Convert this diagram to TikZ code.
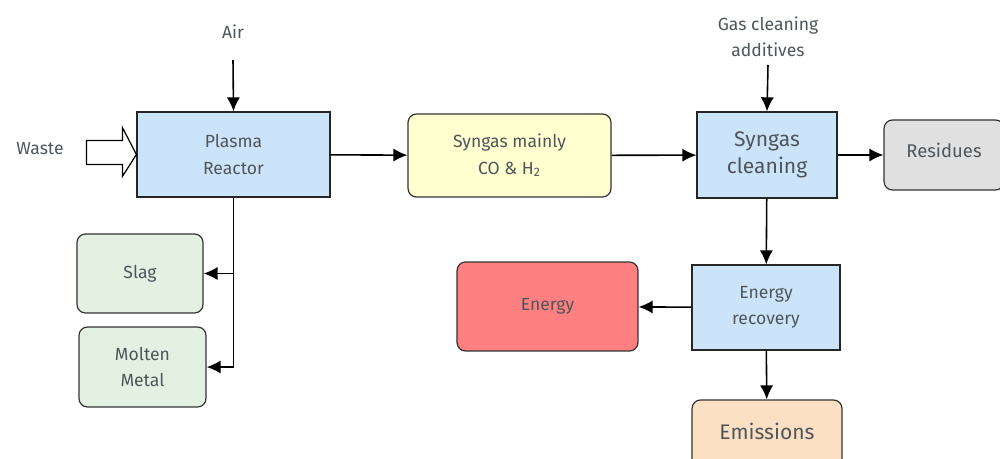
\documentclass[tikz,border=0pt]{standalone}
\usepackage{fontspec}
\setmainfont{Fira Sans}
\usetikzlibrary{arrows,arrows.meta,shapes,positioning}
\definecolor{boxblue}{RGB}{204,228,250}
\definecolor{boxyellow}{RGB}{255,255,208}
\definecolor{boxgray}{RGB}{224,224,224}
\definecolor{boxgreen}{RGB}{226,241,226}
\definecolor{boxred}{RGB}{255,128,128}
\definecolor{boxpeach}{RGB}{252,224,196}
\definecolor{txtgray}{RGB}{78,86,92}

\begin{document}
\begin{tikzpicture}
    [x=0.02cm, y=-0.02cm,
    every node/.style = {align=center, text=txtgray, font=\fontsize{10}{15}\selectfont},
    unit/.style = {shape=rectangle, draw=black!85, line width=0.7pt, fill=boxblue},
    product/.style = {shape=rectangle, rounded corners=0.17cm, draw=black!80, line width=0.7pt},
    flow/.style = {-{Latex[length=8pt,width=7.5pt]}, line width=0.9pt}]

    \clip (0,0) rectangle (1000,459);

    % process units
    \node[unit, minimum width=3.86cm, minimum height=1.7cm] (reactor) at (233.5,154.5) {Plasma\\ Reactor};
    \node[unit, minimum width=2.8cm, minimum height=1.72cm, font=\fontsize{12}{15}\selectfont] (cleaning) at (767,155) {Syngas\\ cleaning};
    \node[unit, minimum width=2.96cm, minimum height=1.7cm] (recovery) at (766,307.5) {Energy\\ recovery};

    % streams
    \node[product, fill=boxyellow, minimum width=4.06cm, minimum height=1.66cm] (syngas) at (509.5,155.5) {Syngas mainly\\ CO \& H\textsubscript{2}};
    \node[product, fill=boxgray, minimum width=2.4cm, minimum height=1.4cm, font=\fontsize{10.5}{15}\selectfont] (residues) at (944,155) {\raisebox{5pt}{Residues}};
    \node[product, fill=boxgreen, minimum width=2.52cm, minimum height=1.58cm] (slag) at (140,273.5) {Slag};
    \node[product, fill=boxgreen, minimum width=2.54cm, minimum height=1.6cm] (metal) at (142.5,367) {Molten\\ Metal};
    \node[product, fill=boxred, minimum width=3.62cm, minimum height=1.78cm] (energy) at (547.5,306.5) {Energy};
    \node[product, fill=boxpeach, minimum width=3cm, minimum height=1.4cm, font=\fontsize{12}{15}\selectfont] (emissions) at (767,435) {\raisebox{4pt}{Emissions}};

    % inputs
    \node (air) at (233,32) {Air};
    \node (additives) at (768,37) {Gas cleaning\\ additives};
    \node (waste) at (40,149) {Waste};

    \draw[line width=0.7pt, fill=white] (reactor.west) -- ++(-14,22) -- ++(0,-12) -- ++(-36,0)
        -- ++(0,-24) -- ++(36,0) -- ++(0,-13) -- cycle;

    \draw[flow] (air) ++(0,28) -- (reactor.north);
    \draw[flow] (additives.south |- 0,65) -- (cleaning.north);
    \draw[flow] (reactor) -- (syngas);
    \draw[flow] (syngas) -- (cleaning);
    \draw[flow] (cleaning) -- (residues);
    \draw[flow] (cleaning) -- (recovery);
    \draw[flow] (recovery) -- (energy);
    \draw[flow] (recovery) -- (emissions);
    \draw[flow] (reactor.south) |- (metal.east);
    \draw[flow] (reactor.south |- slag.east) -- (slag.east);
\end{tikzpicture}
\end{document}
